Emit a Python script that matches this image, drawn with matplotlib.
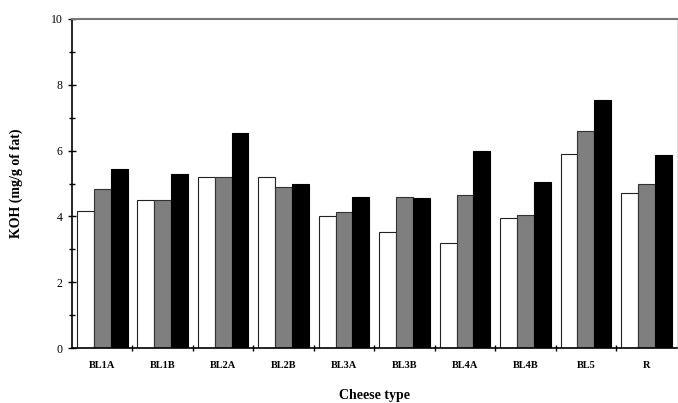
import numpy as np
import matplotlib.pyplot as plt
from matplotlib.ticker import MultipleLocator

# Dados
queijos = ['BL1A', 'BL1B', 'BL2A', 'BL2B', 'BL3A', 'BL3B', 'BL4A', 'BL4B', 'BL5', 'R']
serie_branca = [4.16, 4.50, 5.20, 5.20, 4.02, 3.52, 3.19, 3.95, 5.90, 4.72]
serie_cinza = [4.83, 4.50, 5.20, 4.89, 4.15, 4.60, 4.65, 4.04, 6.60, 4.98]
serie_preta = [5.44, 5.28, 6.54, 5.00, 4.59, 4.55, 5.99, 5.05, 7.55, 5.87]

plt.rcParams['font.family'] = 'Liberation Serif'

fig = plt.figure(figsize=(6.78, 4.03), dpi=100)
ax = fig.add_axes([0.106, 0.136, 0.892, 0.817])

x = np.arange(len(queijos)) + 0.5
w = 0.28
ax.bar(x - w, serie_branca, w, color='white', edgecolor='#222222', linewidth=0.8)
ax.bar(x, serie_cinza, w, color='#7f7f7f', edgecolor='#333333', linewidth=0.8)
ax.bar(x + w, serie_preta, w, color='black', edgecolor='black', linewidth=0.8)

ax.set_xlim(0, len(queijos))
ax.set_ylim(0, 10)

# rótulos no centro dos grupos, marcas entre os grupos
ax.set_xticks(x)
ax.set_xticklabels(queijos, fontsize=7.5, fontweight='bold')
ax.set_xticks(np.arange(1, len(queijos)), minor=True)
ax.tick_params(axis='x', which='major', length=0, pad=9)
ax.tick_params(axis='x', which='minor', length=5, direction='inout', width=1)

ax.yaxis.set_major_locator(MultipleLocator(2))
ax.yaxis.set_minor_locator(MultipleLocator(1))
ax.tick_params(axis='y', which='major', length=6, direction='inout', width=1, labelsize=8.5)
ax.tick_params(axis='y', which='minor', length=4, direction='inout', width=1)

for s in ['left', 'bottom']:
    ax.spines[s].set_linewidth(1.2)
ax.spines['top'].set_color('#777777')
ax.spines['top'].set_linewidth(1.5)
ax.spines['right'].set_color('#dddddd')

ax.set_xlabel('Cheese type', fontsize=10, fontweight='bold', labelpad=14)
ax.set_ylabel('KOH (mg/g of fat)', fontsize=10, fontweight='bold', labelpad=20)

plt.savefig('out.png', dpi=100)
